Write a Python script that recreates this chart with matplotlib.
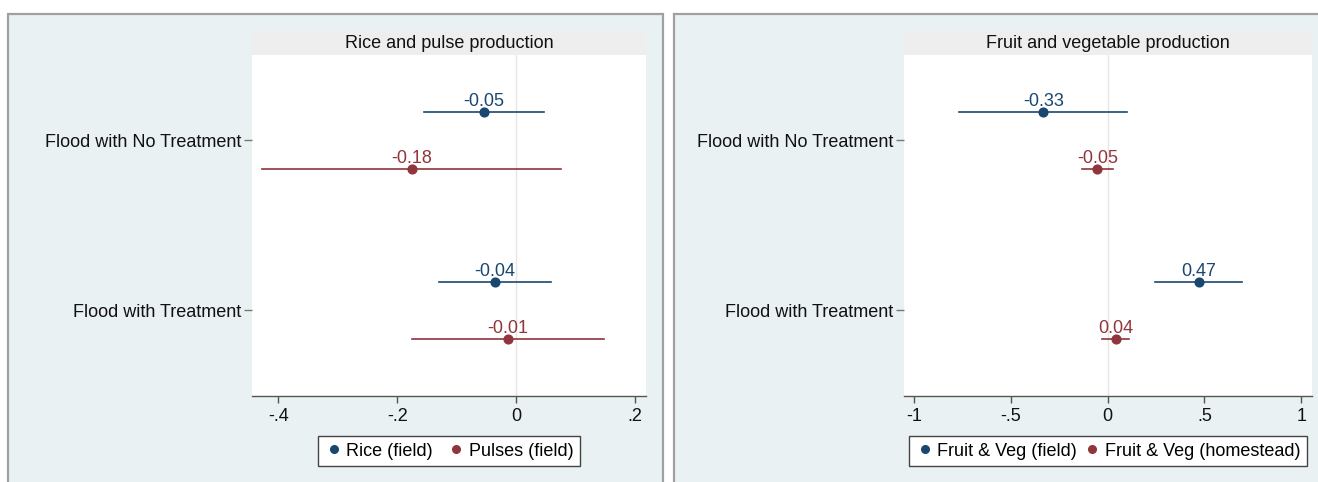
import matplotlib.pyplot as plt
from matplotlib.patches import Rectangle
from matplotlib.lines import Line2D

plt.rcParams['font.family'] = ['Liberation Sans', 'DejaVu Sans']

# Szacunki efektow i przedzialy ufnosci
categories = ['Flood with No Treatment', 'Flood with Treatment']

rice_est = [-0.054, -0.036]
rice_lo = [-0.155, -0.130]
rice_hi = [0.047, 0.058]

pulses_est = [-0.176, -0.014]
pulses_lo = [-0.427, -0.176]
pulses_hi = [0.075, 0.148]

fv_field_est = [-0.332, 0.471]
fv_field_lo = [-0.767, 0.246]
fv_field_hi = [0.103, 0.695]

fv_home_est = [-0.052, 0.043]
fv_home_lo = [-0.134, -0.028]
fv_home_hi = [0.029, 0.113]

left_ticks = [-0.4, -0.2, 0, 0.2]
left_ticklabels = ['-.4', '-.2', '0', '.2']
right_ticks = [-1, -0.5, 0, 0.5, 1]
right_ticklabels = ['-1', '-.5', '0', '.5', '1']

BLUE = '#1a476f'
RED = '#90353b'
BG = '#eaf1f3'
STRIP = '#eeeeee'
W, H = 1318, 482
FS = 13

fig = plt.figure(figsize=(W / 100, H / 100), dpi=100)
fig.patch.set_facecolor('white')


def px(x0, y0, x1, y1):
    # prostokat w pikselach (od gory) -> wspolrzedne figury
    return [x0 / W, 1 - y1 / H, (x1 - x0) / W, (y1 - y0) / H]


def panel(frame, plot, title, series, ticks, ticklabels, xlim, colspace):
    fx0, fx1 = frame
    fig.patches.append(Rectangle((fx0 / W, -0.02), (fx1 - fx0) / W, 1 - 13.5 / H + 0.02,
                                 transform=fig.transFigure, facecolor=BG,
                                 edgecolor='#a0a0a0', linewidth=1.6, zorder=-2))
    px0, px1 = plot
    # pasek tytulu
    fig.patches.append(Rectangle((px0 / W, 1 - 55 / H), (px1 - px0) / W, 24.5 / H,
                                 transform=fig.transFigure, facecolor=STRIP,
                                 edgecolor='none', zorder=-1))
    fig.text((px0 + px1) / 2 / W, 1 - 43 / H, title, ha='center', va='center',
             fontsize=FS, color='#111111')

    ax = fig.add_axes(px(px0, 55, px1, 395.5))
    ax.set_zorder(2)
    ax.set_facecolor('white')
    ax.axvline(0, color='#e6e6e6', linewidth=1, zorder=0)

    ypos = [1, 0]
    offs = [0.1667, -0.1667]
    handles = []
    for (est, lo, hi, color, label), off in zip(series, offs):
        for y, e, l, h in zip(ypos, est, lo, hi):
            yy = y + off
            ax.plot([l, h], [yy, yy], color=color, linewidth=1.2, zorder=2)
            ax.plot(e, yy, 'o', color=color, markersize=6.3, zorder=3)
            ax.annotate(f'{e:.2f}', (e, yy), xytext=(0, 4.2), textcoords='offset points',
                        ha='center', va='baseline', fontsize=FS, color=color)
        handles.append(Line2D([], [], marker='o', linestyle='none', color=color,
                              markersize=5.5, label=label))

    ax.set_xlim(*xlim)
    ax.set_ylim(-0.5, 1.5)
    ax.set_xticks(ticks)
    ax.set_xticklabels(ticklabels, fontsize=FS, color='#111111')
    ax.set_yticks(ypos)
    ax.set_yticklabels(categories, fontsize=FS, color='#111111')
    ax.tick_params(axis='x', length=5, width=1, color='#555555', pad=4)
    ax.tick_params(axis='y', length=6, width=1, color='#777777', pad=2)
    for s in ['top', 'right', 'left']:
        ax.spines[s].set_visible(False)
    ax.spines['bottom'].set_color('#555555')
    ax.spines['bottom'].set_linewidth(1)

    leg = fig.legend(handles=handles, loc='center', ncol=2,
                     bbox_to_anchor=((px0 + px1) / 2 / W, 1 - 451 / H),
                     frameon=True, fancybox=False, framealpha=1, fontsize=FS,
                     handletextpad=0.2, columnspacing=colspace, handlelength=1.0,
                     borderpad=0.35, borderaxespad=0)
    leg.get_frame().set_edgecolor('#444444')
    leg.get_frame().set_linewidth(1)
    return ax


panel((8, 663), (252, 646), 'Rice and pulse production',
      [(rice_est, rice_lo, rice_hi, BLUE, 'Rice (field)'),
       (pulses_est, pulses_lo, pulses_hi, RED, 'Pulses (field)')],
      left_ticks, left_ticklabels, (-0.444, 0.218), 0.8)

panel((674, 1330), (904, 1312), 'Fruit and vegetable production',
      [(fv_field_est, fv_field_lo, fv_field_hi, BLUE, 'Fruit & Veg (field)'),
       (fv_home_est, fv_home_lo, fv_home_hi, RED, 'Fruit & Veg (homestead)')],
      right_ticks, right_ticklabels, (-1.051, 1.056), 0.35)

fig.savefig('out.png', dpi=100, facecolor=fig.get_facecolor())
